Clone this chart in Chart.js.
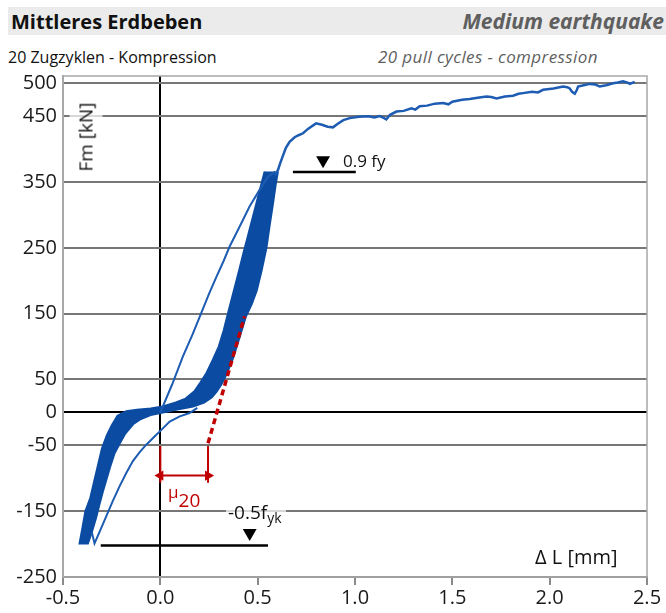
<!DOCTYPE html>
<html lang="de">
<head>
<meta charset="UTF-8">
<title>Mittleres Erdbeben</title>
<script src="https://cdn.jsdelivr.net/npm/chart.js"></script>
<style>
  body { margin: 0; background: #fff; }
  #wrap { position: relative; width: 666px; height: 613px; overflow: hidden; font-family: 'Open Sans', sans-serif; color: #111; }
  #chart { position: absolute; left: 0; top: 0; }
  .bar { position: absolute; left: 8px; top: 7px; width: 658px; height: 28px; background: #ebebeb; }
  .txt { position: absolute; white-space: nowrap; }
  .over { z-index: 2; }
</style>
</head>
<body>
<div id="wrap">
  <div class="bar"></div>
  <div class="txt" style="left:11px; top:12px; font-size:20px; line-height:20px; font-weight:700;">Mittleres Erdbeben</div>
  <div class="txt" style="right:2px; top:11px; font-size:21px; line-height:21px; font-weight:700; font-style:italic; color:#5f5f5f;">Medium earthquake</div>
  <div class="txt" style="left:8px; top:49px; font-size:16px; line-height:16px;">20 Zugzyklen - Kompression</div>
  <div class="txt" style="left:378px; top:48px; font-size:17px; line-height:17px; letter-spacing:0.4px; font-style:italic; color:#5f5f5f;">20 pull cycles - compression</div>

  <canvas id="chart" width="666" height="613"></canvas>

  <div class="txt over" style="left:86px; top:137px; font-size:19px; line-height:19px; padding:7px 4px; background:rgba(255,255,255,0.7); transform:translate(-50%,-50%) rotate(-90deg);">Fm [kN]</div>
  <div class="txt over" style="left:535px; top:547px; font-size:20px; line-height:20px;">&Delta; L [mm]</div>
  <div class="txt over" style="left:343px; top:152px; font-size:17px; line-height:17px;">0.9 fy</div>
  <div class="txt over" style="left:226px; top:503px; font-size:19px; line-height:19px; padding:0 4px 2px 2px; background:rgba(255,255,255,0.7);">-0.5f<span style="font-size:14px; position:relative; top:4px;">yk</span></div>
  <div class="txt over" style="left:168px; top:483px; font-size:17px; line-height:17px; color:#c00000;">&mu;<span style="font-size:19px; position:relative; top:9px;">20</span></div>
</div>

<script>
// achsen
const xTicks = [-0.5, 0, 0.5, 1, 1.5, 2, 2.5];
const yTicks = [500, 450, 350, 250, 150, 50, 0, -50, -150, -250];

// band der 20 zyklen (umriss)
const bandX = [0.536, 0.513, 0.494, 0.471, 0.449, 0.427, 0.406, 0.378, 0.348, 0.325, 0.3, 0.27, 0.237, 0.205, 0.175, 0.13, 0.08, 0.013,
  -0.05, -0.12, -0.175, -0.22, -0.25, -0.275, -0.3, -0.32, -0.34, -0.36, -0.385, -0.4, -0.415,
  -0.372, -0.35, -0.33, -0.313, -0.295, -0.275, -0.255, -0.235, -0.21, -0.18, -0.14, -0.1, -0.05, 0.013, 0.08, 0.168, 0.225,
  0.265, 0.29, 0.315, 0.34, 0.373, 0.405, 0.44, 0.47, 0.495, 0.52, 0.545, 0.562, 0.579, 0.592, 0.604];
const bandY = [366, 340, 318, 292, 267, 242, 217, 185, 151, 124, 100, 80, 60, 45, 32, 21, 15, 9,
  6, 4, 2, -5, -20, -35, -55, -80, -105, -130, -150, -175, -199,
  -199, -180, -160, -140, -120, -100, -80, -62, -48, -32, -18, -10, -4, 0, 4, 9, 15,
  23, 32, 43, 58, 82, 112, 146, 165, 185, 215, 250, 285, 318, 345, 366];

// erstbelastung
const firstX = [0, 0.06, 0.116, 0.165, 0.21, 0.25, 0.288, 0.325, 0.356, 0.407, 0.459, 0.51, 0.553, 0.59];
const firstY = [0, 42, 85, 118, 151, 180, 206, 230, 252, 282, 313, 338, 358, 366];

// letzter zyklus
const lastX = [-0.352, -0.338, -0.31, -0.278, -0.245, -0.209, -0.175, -0.141, -0.105, -0.072, -0.035, 0, 0.048, 0.1, 0.15, 0.19];
const lastY = [-182, -199, -180, -158, -135, -112, -92, -74, -60, -49, -38, -28, -14, -6, -1, 7];

// belastung bis bruch
const finalX = [0.59, 0.604, 0.615, 0.63, 0.645, 0.664, 0.69, 0.71, 0.733, 0.76, 0.8, 0.83, 0.86, 0.887, 0.91, 0.94, 0.973,
  1.02, 1.07, 1.1, 1.127, 1.15, 1.161, 1.18, 1.213, 1.25, 1.29, 1.31, 1.332, 1.37, 1.41, 1.452, 1.48, 1.5, 1.55, 1.589, 1.63,
  1.675, 1.7, 1.727, 1.77, 1.812, 1.84, 1.863, 1.91, 1.94, 1.966, 2.02, 2.069, 2.09, 2.103, 2.115, 2.129, 2.14, 2.146, 2.175,
  2.206, 2.235, 2.257, 2.29, 2.326, 2.35, 2.377, 2.4, 2.412, 2.437];
const finalY = [360, 368, 378, 390, 402, 411, 418, 421, 424, 431, 439, 437, 434, 433, 438, 444, 447,
  449, 450, 448, 450, 447, 445, 452, 457, 458, 462, 460, 465, 466, 469, 470, 468, 472, 475, 476, 478,
  480, 479, 477, 480, 481, 484, 485, 487, 486, 490, 492, 495, 494, 492, 487, 484, 490, 495, 497,
  499, 498, 495, 497, 500, 501, 503, 501, 499, 502];

// markierungen 0.9 fy / -0.5 fyk
const fyLineX = [0.681, 1.004];
const fyLineY = [365, 365];
const fykLineX = [-0.306, 0.553];
const fykLineY = [-202, -202];
const markX = [0.836, 0.459];
const markY = [383, -183];

// duktilitaet mu20
const tangentX = [0.245, 0.433];
const tangentY = [-47, 146];
const muLeftX = [0, 0];
const muRightX = [0.245, 0.245];
const muTickY = [-51, -107];
const muArrowX = [0, 0.245];
const muArrowY = [-96, -96];

const pts = (xs, ys) => xs.map((x, i) => ({ x: x, y: ys[i] }));

const blue = '#0b4ca2';
const lineBlue = '#1d5cb2';
const red = '#c00000';

const frame = {
  id: 'frame',
  afterDraw(chart) {
    const { ctx, chartArea: a } = chart;
    ctx.save();
    ctx.strokeStyle = '#a8a8a8';
    ctx.lineWidth = 1.5;
    ctx.beginPath();
    ctx.moveTo(a.left, a.top);
    ctx.lineTo(a.right, a.top);
    ctx.lineTo(a.right, a.bottom);
    ctx.stroke();
    ctx.restore();
  }
};

const line = (data, color, width, order, extra) => Object.assign({
  data: data, showLine: true, borderColor: color, backgroundColor: color,
  borderWidth: width, pointRadius: 0, fill: false, order: order
}, extra || {});

new Chart(document.getElementById('chart'), {
  type: 'scatter',
  data: {
    datasets: [
      line(pts(bandX, bandY), blue, 2, 9, { fill: 'shape' }),
      line(pts(firstX, firstY), lineBlue, 2, 8),
      line(pts(lastX, lastY), lineBlue, 2, 8),
      line(pts(finalX, finalY), lineBlue, 2.5, 7),
      line(pts(fyLineX, fyLineY), '#000', 2.5, 5),
      line(pts(fykLineX, fykLineY), '#000', 2.5, 5),
      { data: pts(markX, markY), showLine: false, pointStyle: 'triangle', rotation: 180,
        pointRadius: 8, backgroundColor: '#000', borderColor: '#000', borderWidth: 0, order: 4 },
      line(pts(tangentX, tangentY), red, 3.5, 3, { borderDash: [6, 4] }),
      line(pts(muLeftX, muTickY), red, 2, 3),
      line(pts(muRightX, muTickY), red, 2, 3),
      line(pts(muArrowX, muArrowY), red, 2, 3, {
        pointRadius: 4, pointStyle: 'triangle', rotation: [270, 90], borderWidth: 2
      })
    ]
  },
  options: {
    responsive: false,
    animation: false,
    layout: { padding: { left: 0, top: 76, right: 19, bottom: 0 } },
    plugins: { legend: { display: false }, tooltip: { enabled: false } },
    scales: {
      x: {
        type: 'linear', min: -0.5, max: 2.5, z: 1,
        afterBuildTicks: s => { s.ticks = xTicks.map(v => ({ value: v })); },
        afterFit: s => { s.height = 36; },
        ticks: { callback: v => v.toFixed(1), color: '#1a1a1a', padding: 1,
          font: { family: 'Open Sans', size: 20 }, maxRotation: 0 },
        grid: {
          color: c => (c.tick && c.tick.value === 0) ? '#000' : 'rgba(0,0,0,0)',
          lineWidth: 2, tickColor: '#8a8a8a', tickLength: 8, tickWidth: 2
        },
        border: { color: '#a0a0a0', width: 2 }
      },
      y: {
        type: 'linear', min: -250, max: 511, z: 1,
        afterBuildTicks: s => { s.ticks = yTicks.map(v => ({ value: v })); },
        afterFit: s => { s.width = 63; },
        ticks: { color: '#1a1a1a', padding: 6, font: { family: 'Open Sans', size: 20 } },
        grid: {
          color: c => {
            if (!c.tick) return '#777';
            if (c.tick.value === 0) return '#000';
            if (c.tick.value === -250) return '#a0a0a0';
            return '#777';
          },
          lineWidth: 2, drawTicks: false
        },
        border: { color: '#a8a8a8', width: 2 }
      }
    }
  },
  plugins: [frame]
});
</script>
</body>
</html>
